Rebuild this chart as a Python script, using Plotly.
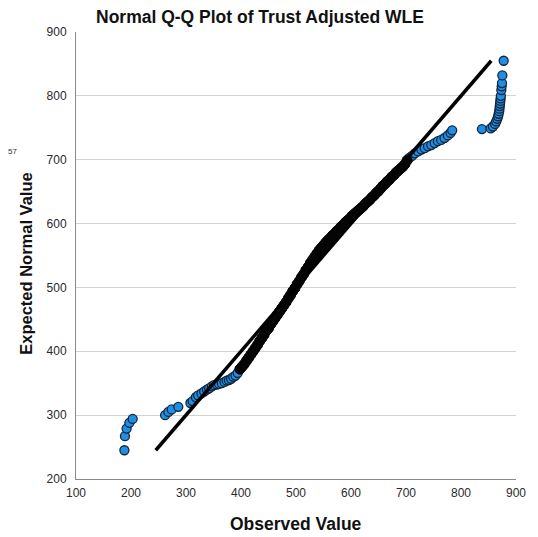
import plotly.graph_objects as go

observed = [
    188, 189, 192, 197, 203,
    262, 268, 274, 286,
    308, 312, 318, 322, 328, 333, 338, 342, 347, 351, 356, 360, 365, 370, 374, 378, 382, 386, 390, 394,
    398, 402, 406, 410, 414, 418, 422, 426, 430, 434, 438, 442, 446, 450, 454, 458, 462, 466, 470, 474,
    478, 482, 486, 490, 494, 498, 502, 506, 510, 514, 518, 522, 526, 530, 534, 538, 542, 546, 550,
    554, 558, 562, 566, 570, 574, 578, 582, 586, 590, 594, 598, 602, 606, 610, 614, 618, 622, 626, 630,
    634, 638, 642, 646, 650, 654, 658, 662, 666, 670, 674, 678, 682, 686, 690, 694, 698, 702,
    706, 711, 716, 722, 728, 734, 740, 746, 752, 758, 764, 770, 776, 781, 784,
    838, 854, 858, 862, 864, 866, 867.5, 868.5, 869.5, 870, 870.5, 871, 871.5, 872, 872.5, 873.3,
    874, 874.5, 875.2, 877.6,
]
# Expected normal values
expected = [
    245, 267, 279, 288, 294,
    300, 305, 309, 313,
    319, 322, 328, 331, 334, 337, 340, 342, 345, 347, 348, 349, 350, 352, 354, 355, 357, 360, 362, 366,
    372, 376, 380, 385, 390, 395, 400, 405, 410, 416, 421, 426, 432, 436, 442, 447, 452, 457, 462, 467,
    472, 477, 483, 488, 494, 499, 505, 510, 516, 521, 527, 532, 538, 543, 548, 553, 558, 562, 566,
    570, 574, 577, 581, 584, 588, 591, 595, 598, 602, 605, 608, 612, 615, 618, 621, 624, 627, 631, 634,
    637, 641, 644, 648, 651, 655, 659, 662, 666, 669, 673, 676, 680, 683, 686, 689, 693, 699,
    703, 706, 710, 713, 716, 718, 721, 723, 726, 729, 731, 734, 738, 742, 746,
    748, 749, 752, 756, 760, 764, 768, 772, 776, 780, 784, 788, 792, 796, 800, 809,
    815, 820, 832, 855,
]
# Reference line (y = x) end values
ref_line = [245, 855]

x_ticks = [100, 200, 300, 400, 500, 600, 700, 800, 900]
y_ticks = [200, 300, 400, 500, 600, 700, 800, 900]

title_text = "Normal Q-Q Plot of Trust Adjusted WLE"
x_title = "Observed Value"
y_title = "Expected Normal Value"
side_label = "57"

# dense middle of the sample (where thousands of overlapping cases look black)
core_lo, core_hi = 396, 704
core_x = [o for o in observed if core_lo <= o <= core_hi]
core_y = [e for o, e in zip(observed, expected) if core_lo <= o <= core_hi]

fig = go.Figure()
fig.add_trace(go.Scatter(
    x=observed, y=expected, mode="markers",
    marker=dict(size=9, color="#1f8ee6", line=dict(color="#15263a", width=1.3)),
    hoverinfo="skip", showlegend=False,
))
fig.add_trace(go.Scatter(
    x=core_x, y=core_y, mode="markers",
    marker=dict(size=10, color="#050505", line=dict(color="#050505", width=1)),
    hoverinfo="skip", showlegend=False,
))
fig.add_trace(go.Scatter(
    x=ref_line, y=ref_line, mode="lines",
    line=dict(color="black", width=3.5),
    hoverinfo="skip", showlegend=False,
))

FONT = "Liberation Sans, Arial, sans-serif"
OFF = 8  # page body margin
W, H = 538 - OFF, 537 - OFF
L, R, T, B = 76 - OFF, 523 - OFF, 32 - OFF, 479 - OFF


def px(xp):
    return (xp - OFF - L) / (R - L)


def py(yp):
    return (B - (yp - OFF)) / (B - T)


fig.update_layout(
    width=W, height=H,
    margin=dict(l=L, r=W - R, t=T, b=H - B),
    paper_bgcolor="white", plot_bgcolor="white",
    font=dict(family=FONT, size=12, color="#333333"),
    showlegend=False,
    xaxis=dict(
        range=[100, 900], tickvals=x_ticks, ticktext=[str(v) for v in x_ticks],
        showgrid=False, zeroline=False, showline=True, linecolor="#8a8a8a", linewidth=1,
        ticks="", ticklabelstandoff=3, tickfont=dict(size=12, color="#2a2a2a", family=FONT),
    ),
    yaxis=dict(
        range=[200, 900], tickvals=y_ticks, ticktext=[str(v) for v in y_ticks],
        showgrid=True, gridcolor="#d2d2d2", gridwidth=1, zeroline=False,
        showline=True, linecolor="#8a8a8a", linewidth=1,
        ticks="", ticklabelstandoff=6, tickfont=dict(size=12, color="#2a2a2a", family=FONT),
    ),
    annotations=[
        dict(text="<b>" + title_text + "</b>", xref="paper", yref="paper",
             x=px(263), y=py(17), xanchor="center", yanchor="middle", showarrow=False,
             font=dict(size=17.5, color="#111111", family=FONT)),
        dict(text="<b>" + x_title + "</b>", xref="paper", yref="paper",
             x=px(299), y=py(524), xanchor="center", yanchor="middle", showarrow=False,
             font=dict(size=17.5, color="#111111", family=FONT)),
        dict(text="<b>" + y_title + "</b>", xref="paper", yref="paper",
             x=px(25), y=py(263), xanchor="center", yanchor="middle", showarrow=False,
             textangle=-90, font=dict(size=16.5, color="#111111", family=FONT)),
        dict(text=side_label, xref="paper", yref="paper",
             x=px(11), y=py(152), xanchor="center", yanchor="middle", showarrow=False,
             font=dict(size=8, color="#333333", family=FONT)),
    ],
)

fig.write_html("out.html")
